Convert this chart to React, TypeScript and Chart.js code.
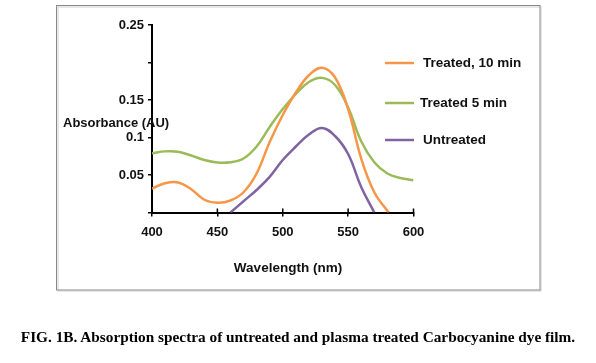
import React, { useEffect, useRef } from 'react';
import { Chart, registerables } from 'chart.js';

Chart.register(...registerables);

// ---- data ----
const X_TICKS = [400, 450, 500, 550, 600];
const Y_TICK_LABELS = ['', '0.05', '0.1', '0.15', '', '0.25'];
const SERIES_LABELS = ['Treated, 10 min', 'Treated 5 min', 'Untreated'];
const SERIES_COLORS = ['#F79646', '#9BBB59', '#8064A2'];

const wl10 = [400, 410, 420, 430, 440, 450, 460, 470, 480, 490, 500, 510, 520, 530, 540, 550, 560, 570, 581];
const treated10 = [0.032, 0.039, 0.040, 0.031, 0.017, 0.013, 0.016, 0.027, 0.052, 0.094, 0.130, 0.160, 0.183, 0.193, 0.180, 0.138, 0.072, 0.027, 0.0];

const wl5 = [400, 410, 420, 430, 440, 450, 460, 470, 480, 490, 500, 510, 520, 530, 540, 550, 560, 570, 580, 590, 600];
const treated5 = [0.079, 0.0815, 0.081, 0.076, 0.070, 0.0667, 0.067, 0.072, 0.088, 0.114, 0.138, 0.158, 0.174, 0.1795, 0.170, 0.140, 0.095, 0.067, 0.052, 0.046, 0.043];

const wlU = [460, 470, 480, 490, 500, 510, 520, 530, 540, 550, 560, 570];
const untreated = [0.0, 0.015, 0.030, 0.0475, 0.070, 0.088, 0.104, 0.1128, 0.102, 0.078, 0.034, 0.0];

const FONT = "'Liberation Sans', Arial, sans-serif";

const decor = {
  id: 'decor',
  beforeDraw(chart: any) {
    const ctx = chart.ctx;
    ctx.save();
    ctx.fillStyle = '#ffffff';
    ctx.fillRect(0, 0, chart.width, chart.height);
    ctx.strokeStyle = '#d0d0d0';
    ctx.lineWidth = 1;
    ctx.strokeRect(58, 7, 483, 284);
    ctx.strokeStyle = '#8a8a8a';
    ctx.strokeRect(56.5, 5.5, 483.5, 284.5);
    ctx.restore();
  },
  afterDraw(chart: any) {
    const ctx = chart.ctx;
    const xs = chart.scales.x;
    const area = chart.chartArea;
    ctx.save();
    ctx.strokeStyle = '#000';
    ctx.lineWidth = 1.5;
    X_TICKS.forEach((v) => {
      const px = xs.getPixelForValue(v);
      ctx.beginPath();
      ctx.moveTo(px, area.bottom - 4);
      ctx.lineTo(px, area.bottom);
      ctx.stroke();
    });
    ctx.fillStyle = '#111';
    ctx.font = `bold 13px ${FONT}`;
    ctx.textBaseline = 'middle';
    ctx.textAlign = 'left';
    ctx.fillText('Absorbance (AU)', 63, 123);
    ctx.font = `bold 13.5px ${FONT}`;
    ctx.textAlign = 'center';
    ctx.fillText('Wavelength (nm)', 288, 268);
    const rows = [63, 103, 140];
    const textX = [423, 420, 423];
    chart.data.datasets.forEach((ds: any, i: number) => {
      ctx.strokeStyle = ds.borderColor;
      ctx.lineWidth = 2.5;
      ctx.beginPath();
      ctx.moveTo(385, rows[i]);
      ctx.lineTo(414, rows[i]);
      ctx.stroke();
      ctx.textAlign = 'left';
      ctx.fillText(ds.label, textX[i], rows[i]);
    });
    ctx.restore();
  },
};

export default function App() {
  const ref = useRef<HTMLCanvasElement | null>(null);

  useEffect(() => {
    if (!ref.current) return;
    const mk = (xs: number[], ys: number[]) => xs.map((x, i) => ({ x, y: ys[i] }));
    const datasets = [mk(wl10, treated10), mk(wl5, treated5), mk(wlU, untreated)].map((d, i) => ({
      label: SERIES_LABELS[i],
      data: d,
      borderColor: SERIES_COLORS[i],
      backgroundColor: SERIES_COLORS[i],
      borderWidth: 2.5,
      pointRadius: 0,
      tension: 0.4,
      fill: false,
    }));
    const chart = new Chart(ref.current, {
      type: 'line',
      data: { datasets },
      plugins: [decor],
      options: {
        animation: false,
        responsive: false,
        devicePixelRatio: 1,
        layout: { padding: { left: 0, top: 25, right: 596 - 413.5, bottom: 363 - 212.5 - 30 } },
        plugins: { legend: { display: false }, tooltip: { enabled: false } },
        scales: {
          x: {
            type: 'linear',
            min: 400,
            max: 600,
            afterBuildTicks: (s: any) => { s.ticks = X_TICKS.map((v) => ({ value: v })); },
            afterFit: (s: any) => { s.height = 30; s.paddingLeft = 0; s.paddingRight = 0; },
            border: { color: '#000', width: 2 },
            grid: { drawOnChartArea: false, tickLength: 4, color: '#000', lineWidth: 1.5 },
            ticks: { color: '#111', font: { family: FONT, size: 13, weight: 'bold' }, padding: 8, maxRotation: 0 },
          },
          y: {
            type: 'linear',
            min: 0,
            max: 0.25,
            ticks: {
              stepSize: 0.05,
              color: '#111',
              font: { family: FONT, size: 13, weight: 'bold' },
              padding: 4,
              callback: (_v: any, i: number) => Y_TICK_LABELS[i],
            },
            afterFit: (s: any) => { s.width = 152; s.paddingTop = 0; s.paddingBottom = 0; },
            border: { color: '#000', width: 2 },
            grid: { drawOnChartArea: false, tickLength: 4, color: '#000', lineWidth: 1.5 },
          },
        },
      } as any,
    });
    return () => chart.destroy();
  }, []);

  return (
    <div style={{ position: 'absolute', left: 0, top: 0, width: 596, height: 363, background: '#fff' }}>
      <canvas ref={ref} width={596} height={363} style={{ display: 'block', width: 596, height: 363 }} />
      <div
        style={{
          position: 'absolute',
          left: 0,
          top: 328,
          width: 596,
          textAlign: 'center',
          fontFamily: "'Liberation Serif', 'Times New Roman', serif",
          fontWeight: 'bold',
          fontSize: 15.3,
          color: '#000',
          whiteSpace: 'nowrap',
        }}
      >
        FIG. 1B. Absorption spectra of untreated and plasma treated Carbocyanine dye film.
      </div>
    </div>
  );
}
